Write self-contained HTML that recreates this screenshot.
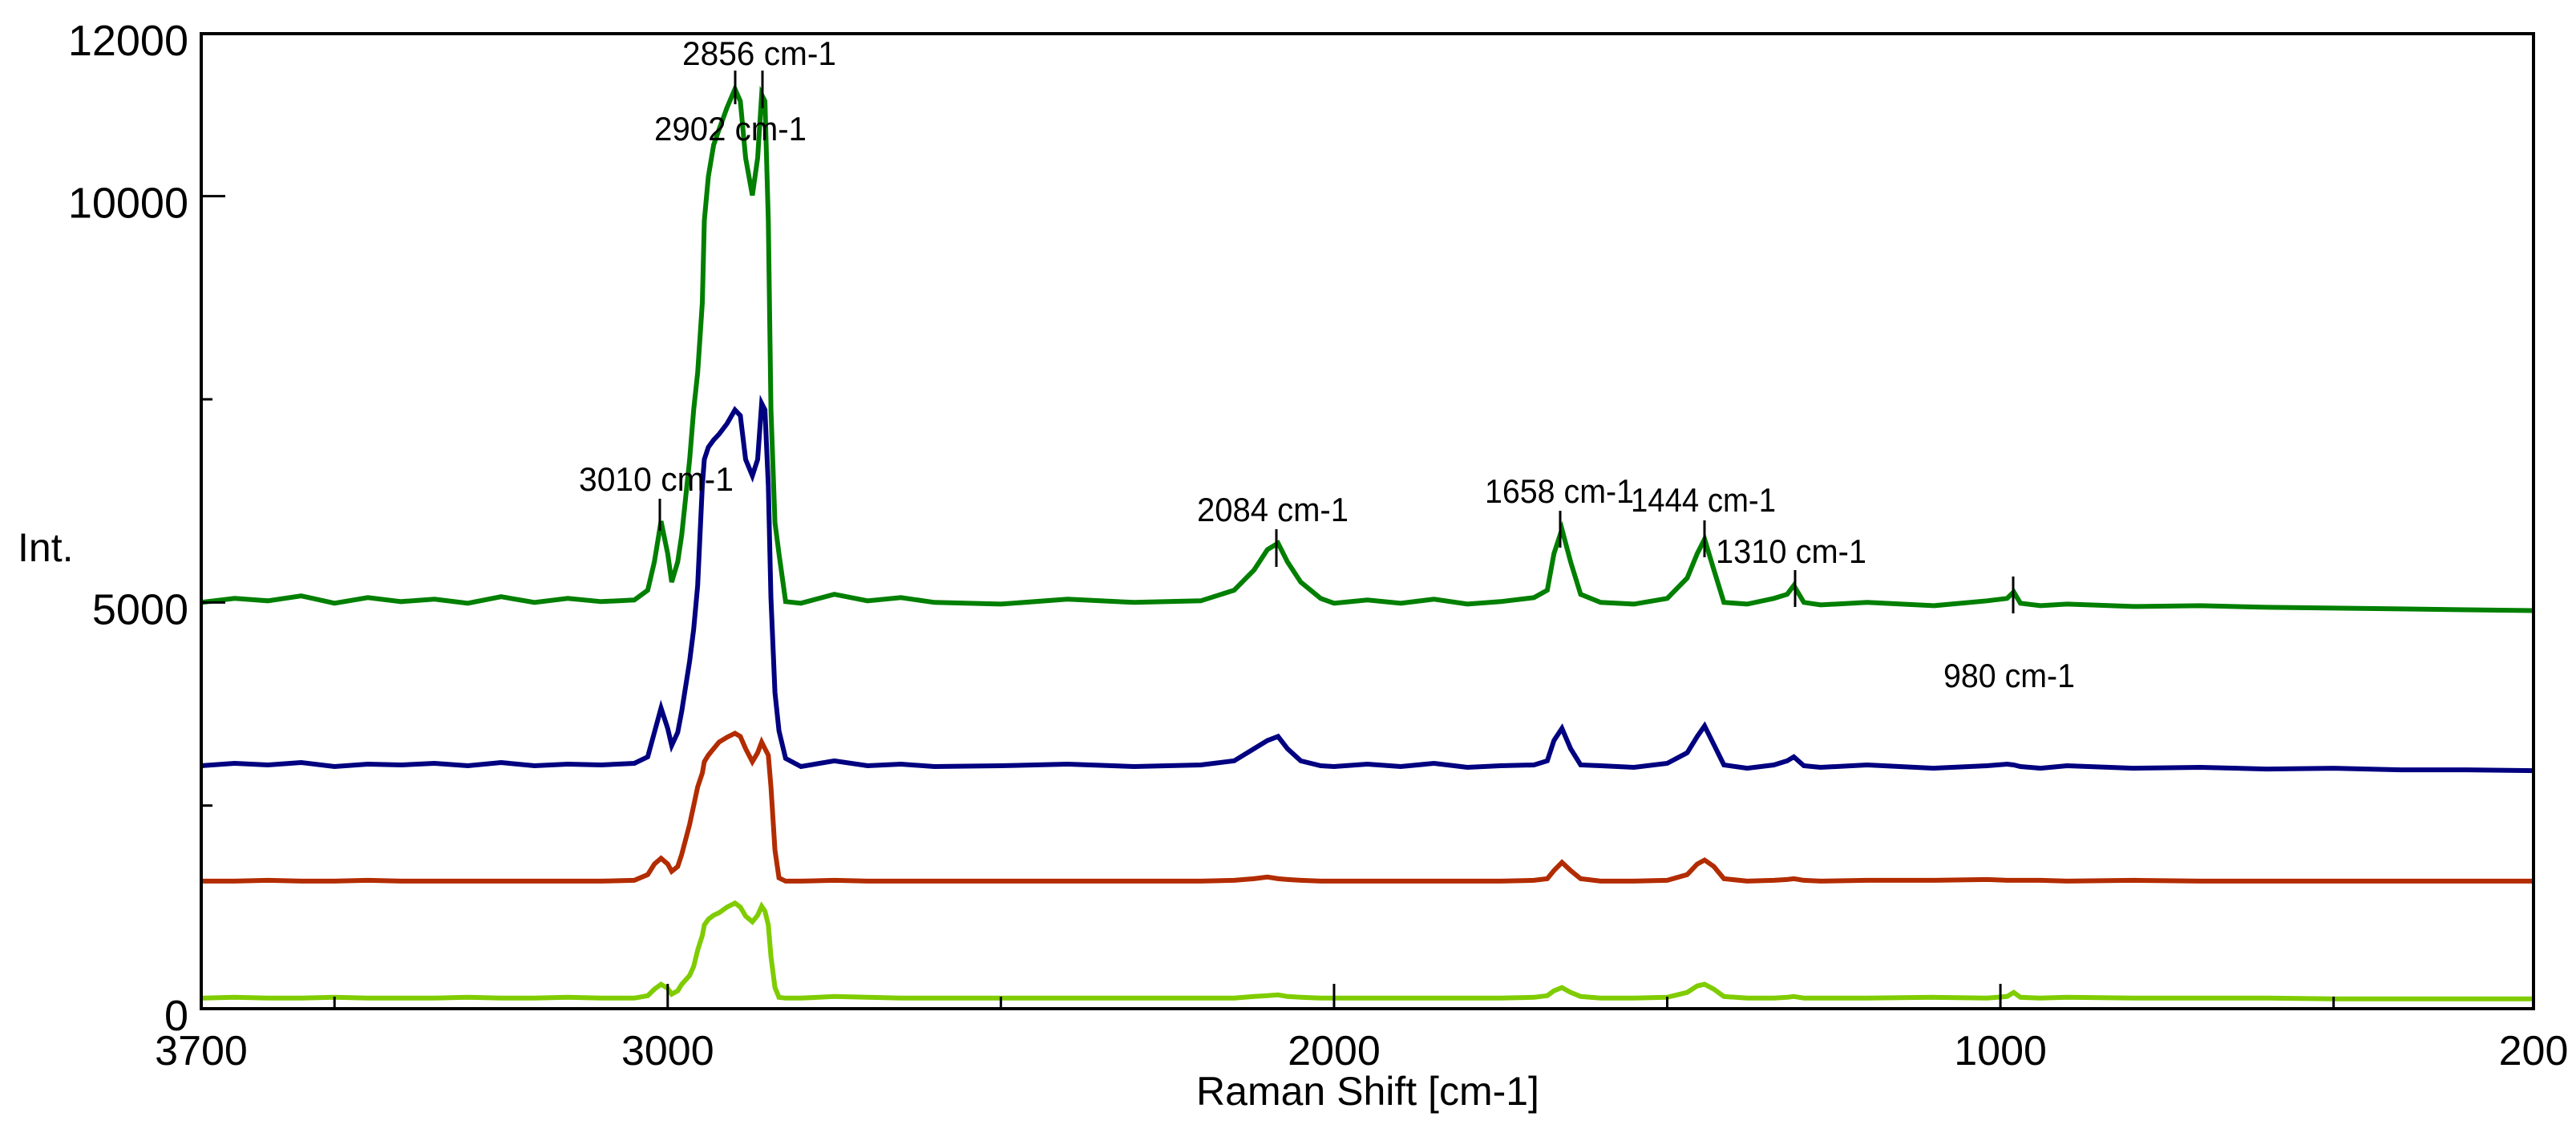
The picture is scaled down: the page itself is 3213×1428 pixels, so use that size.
<!DOCTYPE html>
<html><head><meta charset="utf-8"><title>Raman spectra</title>
<style>
html,body{margin:0;padding:0;background:#fff;}
svg{display:block;font-family:"Liberation Sans",sans-serif;}
</style></head>
<body>
<svg id="chart" xmlns="http://www.w3.org/2000/svg" width="3213" height="1428" viewBox="0 0 3213 1428">
<rect x="0" y="0" width="3213" height="1428" fill="#fff"/>
<g id="series"></g>
<g id="axes"></g>
<g id="annots"></g>
</svg>
<script>
const wavenumbers = [
3700,3650,3600,3550,3500,3450,3400,3350,3300,3250,3200,3150,3100,3050,
3030,3020,3010,3000,2994,2985,2979,2967,2961,2955,2948,2945,2939,2931,2923,2911,2899,2891,2883,2873,2865,2859,2854,2849,2845,2839,2833,2823,
2800,2750,2700,2650,2600,2500,2400,2300,2200,2150,2120,2100,2084,2070,2050,2020,2000,
1950,1900,1850,1800,1750,1700,1680,1670,1658,1645,1630,1600,1550,1500,1470,1455,1444,1430,1415,1380,1340,1320,1310,1295,
1270,1200,1100,1020,990,980,970,940,900,800,700,600,500,400,300,200];
const greenSeries = [
5000,5050,5020,5080,4990,5060,5010,5040,4990,5070,5000,5050,5010,5030,
5150,5500,6000,5600,5250,5500,5830,6760,7370,7830,8690,9700,10240,10630,10820,11090,11320,11170,10470,10010,10470,11250,11170,9700,7370,5980,5600,5010,
4990,5100,5020,5060,5000,4980,5040,5000,5020,5150,5400,5650,5730,5500,5250,5050,4990,
5030,4990,5040,4980,5010,5060,5150,5600,5900,5500,5100,5000,4980,5050,5300,5600,5780,5400,5000,4980,5050,5100,5210,5000,
4970,5000,4960,5020,5050,5130,4990,4960,4980,4950,4960,4940,4930,4920,4910,4900];
const blueSeries = [
2990,3020,3000,3030,2980,3010,3000,3020,2990,3030,2990,3010,3000,3020,
3100,3400,3700,3450,3240,3400,3660,4280,4670,5210,6440,6760,6910,7000,7070,7200,7370,7300,6760,6560,6760,7450,7370,6440,5050,3890,3420,3080,
2980,3050,2990,3010,2980,2990,3010,2980,3000,3050,3200,3300,3350,3200,3050,2990,2980,
3010,2980,3020,2970,2990,3000,3050,3300,3450,3200,3000,2990,2970,3020,3150,3350,3480,3250,3000,2960,3000,3050,3100,2990,
2970,3000,2960,2990,3010,3000,2980,2960,2990,2960,2970,2950,2960,2940,2940,2930];
const redSeries = [
1570,1570,1580,1570,1570,1580,1570,1570,1570,1570,1570,1570,1570,1580,
1650,1780,1850,1780,1690,1750,1900,2270,2500,2730,2900,3040,3120,3200,3280,3340,3390,3350,3200,3040,3150,3280,3200,3120,2730,1950,1610,1570,
1570,1580,1570,1570,1570,1570,1570,1570,1570,1580,1600,1620,1600,1590,1580,1570,1570,
1570,1570,1570,1570,1570,1580,1600,1700,1800,1700,1600,1570,1570,1580,1650,1780,1830,1750,1600,1570,1580,1590,1600,1580,
1570,1580,1580,1590,1580,1580,1580,1580,1570,1580,1570,1570,1570,1570,1570,1570];
const limeSeries = [
130,140,130,130,140,130,130,130,140,130,130,140,130,130,
160,240,300,250,180,220,300,410,520,720,900,1030,1100,1150,1180,1250,1300,1250,1140,1070,1150,1260,1200,1030,640,260,140,130,
130,150,140,130,130,130,130,130,130,130,150,160,170,150,140,130,130,
130,130,130,130,130,140,160,220,260,200,150,130,130,140,200,280,300,240,150,130,130,140,150,130,
130,130,140,130,150,200,140,130,140,130,130,130,120,120,120,120];
const xMajorTicks = [3700,3000,2000,1000,200];
const xMajorLabels = ["3700","3000","2000","1000","200"];
const xMinorTicks = [3500,2500,1500,500];
const yMajorTicks = [0,5000,10000,12000];
const yMajorLabels = ["0","5000","10000","12000"];
const yMinorTicks = [2500,7500];
const peakLabels = ["2856 cm-1","2902 cm-1","3010 cm-1","2084 cm-1","1658 cm-1","1444 cm-1","1310 cm-1","980 cm-1"];

const NS="http://www.w3.org/2000/svg";
const L=251,R=3160,T=42,B=1258;
function xs(w){return L+(3700-w)/3500*(R-L);}
function ys(v){return B-v/12000*(B-T);}
function mk(tag,attrs,parent){const e=document.createElementNS(NS,tag);for(const k in attrs)e.setAttribute(k,attrs[k]);parent.appendChild(e);return e;}

const sg=document.getElementById('series');
const seriesDefs=[[limeSeries,'#7fcc00','lime-spectrum'],[redSeries,'#b22c00','red-spectrum'],[blueSeries,'#000080','blue-spectrum'],[greenSeries,'#007f00','green-spectrum']];
seriesDefs.forEach(function(s){
  const d=wavenumbers.map(function(w,i){return (i?'L':'M')+xs(w).toFixed(1)+','+ys(s[0][i]).toFixed(1);}).join(' ');
  const p=mk('path',{d:d,fill:'none',stroke:s[1],'stroke-width':6,'stroke-linejoin':'miter'},sg);
  
  
});

const ag=document.getElementById('axes');
const frame=mk('rect',{x:L,y:T,width:R-L,height:B-T,fill:'none',stroke:'#000','stroke-width':4},ag);


xMajorTicks.forEach(function(w,i){
  const t=mk('line',{x1:xs(w),x2:xs(w),y1:B,y2:B-31,stroke:'#000','stroke-width':3},ag);
  
  
  const lb=mk('text',{x:xs(w),y:1328,'text-anchor':'middle','font-size':52,fill:'#000'},ag);
  lb.textContent=xMajorLabels[i];
  
  
});
xMinorTicks.forEach(function(w){
  const t=mk('line',{x1:xs(w),x2:xs(w),y1:B,y2:B-15,stroke:'#000','stroke-width':3},ag);
  
  
});
yMajorTicks.forEach(function(v,i){
  const t=mk('line',{x1:L,x2:L+30,y1:ys(v),y2:ys(v),stroke:'#000','stroke-width':3},ag);
  
  
  const lb=mk('text',{x:235,y:ys(v)+27,'text-anchor':'end','font-size':54,fill:'#000'},ag);
  lb.textContent=yMajorLabels[i];
  
  
});
yMinorTicks.forEach(function(v){
  const t=mk('line',{x1:L,x2:L+14,y1:ys(v),y2:ys(v),stroke:'#000','stroke-width':3},ag);
  
  
});
const yt=mk('text',{x:22,y:700,'font-size':50,fill:'#000'},ag);
yt.textContent='Int.';


const xt=mk('text',{x:1706,y:1378,'text-anchor':'middle','font-size':50,fill:'#000'},ag);
xt.textContent='Raman Shift [cm-1]';



const ng=document.getElementById('annots');
// label boxes: [left x, centre y, width] in px; marker [x, y1, y2]
const labelBoxes=[[851,66,192],[816,160,190],[722,597,193],[1493,635,189],[1852,612,186],[2034,623,181],[2140,687,188],[2424,842,164]];
const markers=[[951,88,135],[917,88,130],[823,622,662],[1592,660,707],[1946,637,683],[2126,649,695],[2239,711,757],[2511,719,765]];
peakLabels.forEach(function(s,i){
  const b=labelBoxes[i];
  const t=mk('text',{x:b[0],y:b[1]+15,'font-size':42,fill:'#000',textLength:b[2],lengthAdjust:'spacingAndGlyphs'},ng);
  t.textContent=s;
  
  
  const m=markers[i];
  const ln=mk('line',{x1:m[0],x2:m[0],y1:m[1],y2:m[2],stroke:'#000','stroke-width':3},ng);
  
  
});
</script>
</body></html>
